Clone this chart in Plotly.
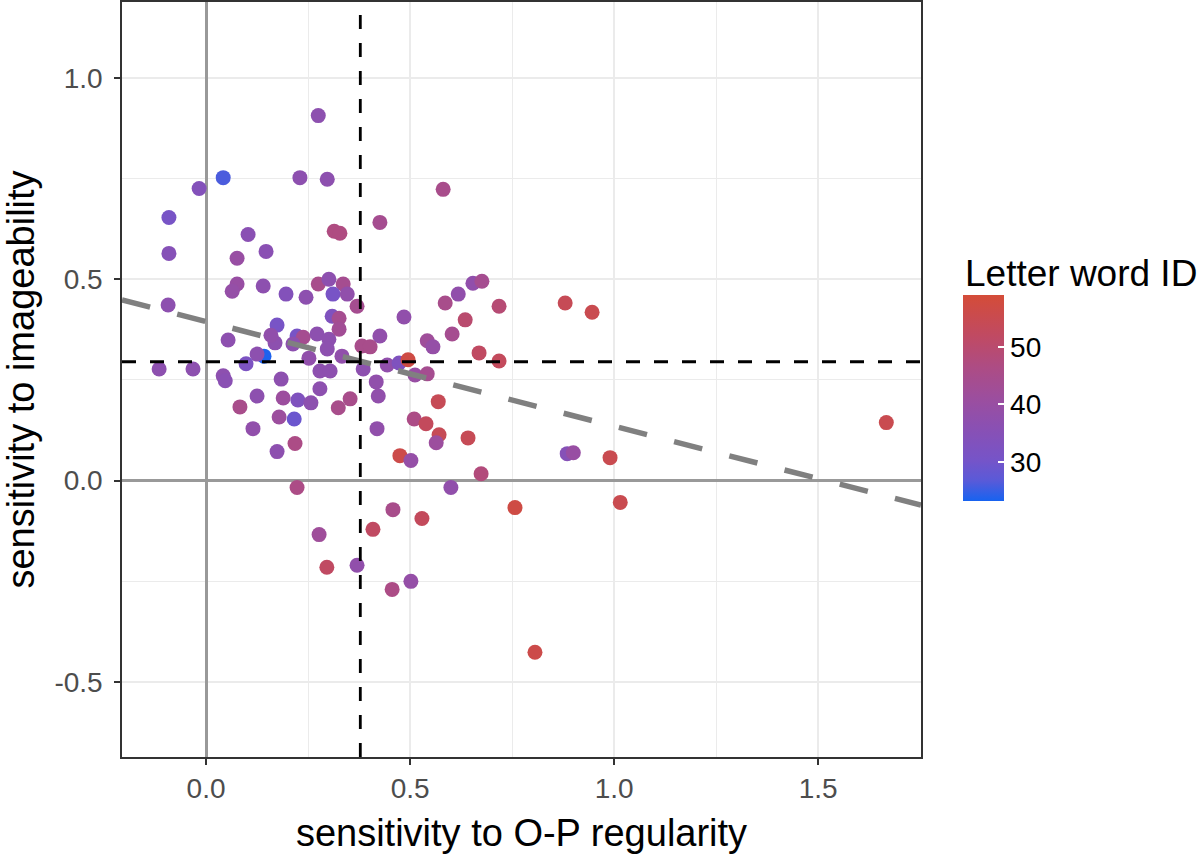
import plotly.graph_objects as go

# ---- data ----
op_sensitivity = [
    0.275, 0.042, 0.230, 0.297, -0.017, -0.091, -0.091, 0.581, 0.426, 0.314,
    0.328, 0.103, 0.147, 0.076, 0.076, 0.064, 0.140, 0.196, 0.245, 0.275,
    0.301, 0.336, 0.311, 0.346, -0.093, 0.370, 0.309, 0.326, 0.485, 0.654,
    0.676, 0.618, 0.586, 0.718, 0.635, 0.880, 0.946, 0.603, 0.542, 0.556,
    0.669, 0.718, 0.054, 0.174, 0.223, 0.238, 0.169, 0.213, 0.272, 0.159,
    0.301, 0.297, 0.326, 0.426, 0.382, 0.402, 0.142, 0.125, 0.098, 0.252,
    0.333, -0.115, -0.032, 0.042, 0.047, 0.279, 0.304, 0.385, 0.444, 0.473,
    0.495, 0.512, 0.542, 0.184, 0.417, 0.422, 0.279, 0.353, 0.324, 0.125,
    0.189, 0.225, 0.257, 0.083, 0.179, 0.216, 0.115, 0.419, 0.510, 0.539,
    0.569, 0.571, 0.564, 0.218, 0.174, 0.475, 0.502, 0.223, 0.642, 0.674,
    0.885, 0.900, 0.990, 0.600, 0.757, 1.015, 0.458, 0.529, 0.409, 0.277,
    0.296, 0.370, 0.502, 0.456, 0.806, 1.667,
]
img_sensitivity = [
    0.906, 0.752, 0.752, 0.748, 0.725, 0.653, 0.564, 0.723, 0.641, 0.619,
    0.614, 0.611, 0.569, 0.552, 0.488, 0.470, 0.483, 0.463, 0.455, 0.488,
    0.500, 0.488, 0.463, 0.463, 0.436, 0.433, 0.408, 0.403, 0.406, 0.490,
    0.495, 0.463, 0.441, 0.433, 0.399, 0.441, 0.418, 0.364, 0.347, 0.332,
    0.317, 0.297, 0.349, 0.386, 0.359, 0.356, 0.342, 0.339, 0.364, 0.361,
    0.351, 0.327, 0.376, 0.359, 0.334, 0.332, 0.309, 0.314, 0.290, 0.304,
    0.309, 0.277, 0.277, 0.260, 0.248, 0.272, 0.272, 0.277, 0.287, 0.292,
    0.300, 0.262, 0.265, 0.252, 0.245, 0.210, 0.228, 0.203, 0.181, 0.210,
    0.205, 0.200, 0.193, 0.183, 0.158, 0.153, 0.129, 0.129, 0.153, 0.141,
    0.196, 0.114, 0.094, 0.092, 0.072, 0.062, 0.050, -0.017, 0.106, 0.017,
    0.067, 0.069, 0.057, -0.017, -0.067, -0.054, -0.072, -0.094, -0.121, -0.134,
    -0.215, -0.210, -0.250, -0.270, -0.426, 0.144,
]
letter_word_id = [
    37, 26, 37, 37, 34, 31, 35, 45, 44, 47,
    47, 36, 36, 40, 40, 39, 37, 34, 37, 45,
    37, 44, 31, 38, 37, 44, 33, 44, 38, 38,
    44, 38, 45, 49, 50, 54, 55, 44, 42, 39,
    52, 53, 37, 31, 31, 44, 37, 37, 37, 38,
    37, 37, 43, 38, 45, 45, 23.5, 37, 32, 38,
    38, 37, 37, 37, 36, 37, 37, 37, 38, 33,
    57, 40, 44, 37, 38, 38, 37, 45, 45, 37,
    41, 33, 37, 45, 41, 29, 38, 38, 46, 53,
    54, 54, 41, 46, 37, 56, 39, 46, 54, 48,
    35, 40, 55, 38, 57, 55, 45, 53, 52, 42,
    52, 38, 39, 46, 56, 55,
]

mean_op = 0.378
mean_img = 0.295
reg_intercept = 0.395
reg_slope = -0.260

x_range = [-0.206, 1.752]
y_range = [-0.686, 1.188]
x_ticks = [0.0, 0.5, 1.0, 1.5]
x_ticklabels = ["0.0", "0.5", "1.0", "1.5"]
y_ticks = [-0.5, 0.0, 0.5, 1.0]
y_ticklabels = ["-0.5", "0.0", "0.5", "1.0"]
cbar_ticks = [30, 40, 50]
id_min, id_max = 23.2, 59.0

colorscale = [
    [0.0, "#1763f0"],
    [0.1, "#5a5ad8"],
    [0.2, "#7654c8"],
    [0.35, "#8950b4"],
    [0.5, "#9c4e9e"],
    [0.65, "#ad4c84"],
    [0.8, "#c04a63"],
    [1.0, "#d44c38"],
]

FONT = "Liberation Sans, Arial, sans-serif"

fig = go.Figure()

fig.add_trace(go.Scatter(
    x=op_sensitivity, y=img_sensitivity, mode="markers",
    marker=dict(
        size=15, color=letter_word_id, colorscale=colorscale,
        cmin=id_min, cmax=id_max, line=dict(width=0),
        colorbar=dict(
            x=1.0526, xanchor="left", y=0.4755, yanchor="middle",
            xpad=0, ypad=0,
            thickness=41, len=206, lenmode="pixels",
            outlinewidth=0, tickvals=cbar_ticks,
            ticks="inside", tickcolor="white", ticklen=6, tickwidth=1.5,
            tickfont=dict(size=28, color="black", family=FONT),
        ),
    ),
    showlegend=False, hoverinfo="skip",
))

reg_x = x_range
reg_y = [reg_intercept + reg_slope * v for v in reg_x]
fig.add_trace(go.Scatter(
    x=reg_x, y=reg_y, mode="lines",
    line=dict(color="#808080", width=5.5, dash="29px,28px"),
    showlegend=False, hoverinfo="skip",
))

fig.add_vline(x=mean_op, line=dict(color="black", width=2.8, dash="14px,14px"), layer="above")
fig.add_hline(y=mean_img, line=dict(color="black", width=2.8, dash="14px,14px"), layer="above")

axis_common = dict(
    automargin=False,
    showgrid=True, gridcolor="#ebebeb", gridwidth=1.5,
    zeroline=True, zerolinecolor="#999999", zerolinewidth=3,
    showline=True, mirror=True, linecolor="#333333", linewidth=1.5,
    ticks="outside", ticklen=6, tickcolor="#333333", tickwidth=1.5,
    tickfont=dict(size=28, color="#4d4d4d", family=FONT),
    minor=dict(dtick=0.25, showgrid=True, gridcolor="#ebebeb", gridwidth=1.2),
)

fig.update_xaxes(
    range=x_range, tickvals=x_ticks, ticktext=x_ticklabels, tick0=0, dtick=0.5,
    ticklabelstandoff=0,
    title=dict(text="sensitivity to O-P regularity", font=dict(size=38, color="black", family=FONT), standoff=16),
    **axis_common,
)
fig.update_yaxes(
    range=y_range, tickvals=y_ticks, ticktext=y_ticklabels, tick0=0, dtick=0.5,
    ticklabelstandoff=6,
    title=dict(text="sensitivity to imageability", font=dict(size=38, color="black", family=FONT), standoff=12),
    **axis_common,
)

fig.add_annotation(
    text="Letter word ID", xref="paper", yref="paper",
    x=1.0526, xanchor="left", y=0.641, yanchor="middle",
    showarrow=False, font=dict(size=37, color="black", family=FONT),
)

fig.update_layout(
    width=1200, height=854,
    margin=dict(l=122, r=279, t=2, b=97, autoexpand=False),
    plot_bgcolor="white", paper_bgcolor="white",
    font=dict(family=FONT),
)

fig.write_html("out.html", config={"displayModeBar": False},
               post_script="document.body.style.margin='0';")
